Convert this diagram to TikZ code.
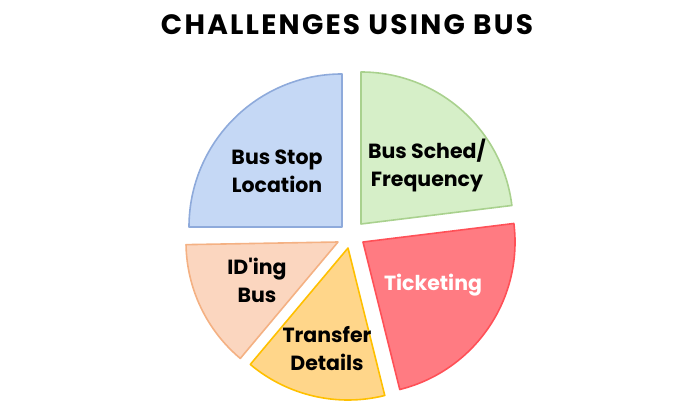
\documentclass[tikz,border=0pt]{standalone}
\usepackage{fontspec}
\setmainfont{Poppins}[Ligatures=TeXOff]
\definecolor{bluefill}{HTML}{C5D8F5}
\definecolor{blueline}{HTML}{8EAADB}
\definecolor{greenfill}{HTML}{D6EFC8}
\definecolor{greenline}{HTML}{A9D18E}
\definecolor{redfill}{HTML}{FF7B82}
\definecolor{redline}{HTML}{FF5057}
\definecolor{yelfill}{HTML}{FFD68A}
\definecolor{yelline}{HTML}{FFC000}
\definecolor{peachfill}{HTML}{FBD6BF}
\definecolor{peachline}{HTML}{F4B183}
\begin{document}
\begin{tikzpicture}[x=1pt,y=1pt,
  wedge/.style={line width=1.6pt,line join=round},
  lbl/.style={font=\bfseries\fontsize{20.5}{28}\selectfont,align=center,inner sep=0pt},
  ttl/.style={font=\bfseries\fontsize{28}{32}\selectfont,inner sep=0pt}]
\useasboundingbox (0,0) rectangle (700,415);
% Bus Stop Location
\coordinate (cb) at (342,188);
\filldraw[wedge,fill=bluefill,draw=blueline] (cb) -- ++(90:153) arc[start angle=90,end angle=180,radius=153] -- cycle;
% Bus Sched
\coordinate (cg) at (361,191);
\filldraw[wedge,fill=greenfill,draw=greenline] (cg) -- ++(7:152) arc[start angle=7,end angle=90,radius=152] -- cycle;
% Ticketing
\coordinate (cr) at (363,173);
\filldraw[wedge,fill=redfill,draw=redline] (cr) -- ++(-76:152) arc[start angle=-76,end angle=7,radius=152] -- cycle;
% Transfer
\coordinate (cy) at (348,167);
\filldraw[wedge,fill=yelfill,draw=yelline] (cy) -- ++(230:152) arc[start angle=230,end angle=284,radius=152] -- cycle;
% ID'ing
\coordinate (cp) at (338,173);
\filldraw[wedge,fill=peachfill,draw=peachline] (cp) -- ++(181:152) arc[start angle=181,end angle=230,radius=152] -- cycle;
% labels
\node[ttl] (title) at (347,390) {\addfontfeatures{LetterSpace=8}CHALLENGES USING BUS};
\node[lbl] (lb) at (277,244) {Bus Stop\\Location};
\node[lbl] (lg) at (427,250) {Bus Sched/\\Frequency};
\node[lbl,text=white] (lr) at (433,130) {Ticketing};
\node[lbl] (lp) at (257,135) {ID'ing\\Bus};
\node[lbl] (ly) at (327,66) {Transfer\\Details};
\end{tikzpicture}
\end{document}
